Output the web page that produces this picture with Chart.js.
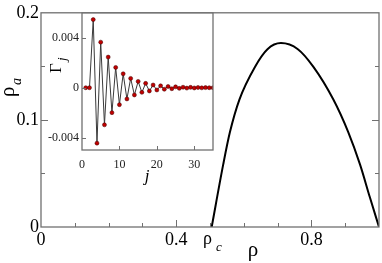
<!DOCTYPE html>
<html>
<head>
<meta charset="utf-8">
<script src="https://cdn.jsdelivr.net/npm/chart.js@4/dist/chart.umd.min.js"></script>
<style>
html,body{margin:0;padding:0;background:#fff;}
#wrap{position:relative;width:382px;height:263px;}
canvas{position:absolute;left:0;top:0;}
</style>
</head>
<body>
<div id="wrap">
<canvas id="main" width="382" height="263"></canvas>
<canvas id="inset" width="382" height="263"></canvas>
</div>
<script>
// ---- main panel data ----
const rho   = [0.505, 0.539, 0.559, 0.587, 0.633, 0.670, 0.710, 0.760, 0.806, 0.865, 0.909, 0.944, 0.973, 1.000];
const rhoA  = [0.000, 0.0582, 0.0886, 0.119, 0.1495, 0.166, 0.1717, 0.166, 0.1495, 0.119, 0.0886, 0.0582, 0.0277, 0.000];
const mainXTicks  = [0, 0.1, 0.2, 0.3, 0.4, 0.5, 0.6, 0.7, 0.8, 0.9, 1.0];
const mainXLabels = ['0', '', '', '', '0.4', '', '', '', '0.8', '', ''];
const mainYTicks  = [0, 0.05, 0.1, 0.15, 0.2];
const mainYLabels = ['0', '', '0.1', '', '0.2'];
const rhoC = 0.5;

// ---- inset data ----
const jIdx  = [1,2,3,4,5,6,7,8,9,10,11,12,13,14,15,16,17,18,19,20,21,22,23,24,25,26,27,28,29,30,31,32,33,34,35];
const gamma = [0, 0, 0.00547, -0.00445, 0.00366, -0.00298, 0.00246, -0.0020, 0.00163, -0.00136,
               0.00112, -0.0009, 0.00075, -0.00058, 0.00051, -0.00037, 0.00035, -0.00026, 0.00022, -0.00018,
               0.00015, -0.00012, 0.0001, -0.00008, 0.00007, -0.00005, 0.00004, -0.00003, 0.00003, -0.00002,
               0.00002, -0.00001, 0.00001, 0, 0];
const insetXTicks  = [0, 10, 20, 30];
const insetXLabels = ['0', '10', '20', '30'];
const insetYTicks  = [-0.004, 0, 0.004];
const insetYLabels = ['-0.004', '0', '0.004'];

const SERIF = '"Liberation Serif", "DejaVu Serif", serif';
const FRAME = '#707070';

function drawTicks(ctx, chart, cfg){
  const a = chart.chartArea, xs = chart.scales.x, ys = chart.scales.y;
  ctx.save();
  ctx.strokeStyle = FRAME; ctx.lineWidth = 1;
  ctx.beginPath();
  cfg.x.forEach(t => {
    const px = Math.round(xs.getPixelForValue(t.v)) + 0.5;
    ctx.moveTo(px, a.bottom); ctx.lineTo(px, a.bottom - t.len);
  });
  cfg.y.forEach(t => {
    const py = Math.round(ys.getPixelForValue(t.v)) + 0.5;
    ctx.moveTo(a.left, py); ctx.lineTo(a.left + t.len, py);
    if (cfg.right) { ctx.moveTo(a.right, py); ctx.lineTo(a.right - t.len, py); }
  });
  ctx.stroke();
  ctx.lineWidth = 1.3;
  ctx.strokeRect(a.left, a.top, a.right - a.left, a.bottom - a.top);
  ctx.restore();
}

const mainPlugin = {
  id: 'mainDeco',
  afterDatasetsDraw(chart){
    const ctx = chart.ctx;
    drawTicks(ctx, chart, {
      x: mainXTicks.filter(v => v > 0 && v < 1).map((v, i) => ({v, len: mainXLabels[i+1] ? 7 : 4})),
      y: mainYTicks.filter(v => v > 0 && v < 0.2).map((v, i) => ({v, len: mainYLabels[i+1] ? 7 : 4})),
      right: true
    });
    const xs = chart.scales.x;
    ctx.save();
    ctx.fillStyle = '#000';
    // rho_c label
    const pc = xs.getPixelForValue(rhoC);
    ctx.font = '18px ' + SERIF; ctx.textAlign = 'left'; ctx.textBaseline = 'alphabetic';
    ctx.fillText('ρ', pc - 7, 244);
    ctx.font = 'italic 13px ' + SERIF;
    ctx.fillText('c', pc + 6, 251);
    // x title
    ctx.font = '21px ' + SERIF; ctx.textAlign = 'center';
    ctx.fillText('ρ', 253, 256);
    // y title (rotated)
    ctx.translate(14, 97); ctx.rotate(-Math.PI/2);
    ctx.textAlign = 'left';
    ctx.font = '21px ' + SERIF; ctx.fillText('ρ', 0, 0);
    ctx.font = 'italic 14px ' + SERIF; ctx.fillText('a', 12, 7);
    ctx.restore();
  }
};

const insetPlugin = {
  id: 'insetDeco',
  beforeDatasetsDraw(chart){
    const a = chart.chartArea, ctx = chart.ctx;
    ctx.save(); ctx.fillStyle = '#fff';
    ctx.fillRect(a.left, a.top, a.right - a.left, a.bottom - a.top);
    ctx.restore();
  },
  afterDatasetsDraw(chart){
    const ctx = chart.ctx;
    drawTicks(ctx, chart, {
      x: insetXTicks.filter(v => v > 0).map(v => ({v, len: 4})),
      y: insetYTicks.map(v => ({v, len: 4})),
      right: false
    });
    ctx.save(); ctx.fillStyle = '#000';
    ctx.font = 'italic 17px ' + SERIF; ctx.textAlign = 'center'; ctx.textBaseline = 'alphabetic';
    ctx.fillText('j', 147, 181);
    ctx.translate(61, 73); ctx.rotate(-Math.PI/2);
    ctx.textAlign = 'left';
    ctx.font = '17px ' + SERIF; ctx.fillText('Γ', 0, 0);
    ctx.font = 'italic 13px ' + SERIF; ctx.fillText('j', 12, 5);
    ctx.restore();
  }
};

new Chart(document.getElementById('main'), {
  type: 'scatter',
  data: { datasets: [{
    data: rho.map((x, i) => ({x, y: rhoA[i]})),
    showLine: true, borderColor: '#000', borderWidth: 2, pointRadius: 0,
    cubicInterpolationMode: 'monotone', fill: false
  }]},
  options: {
    responsive: false, animation: false, devicePixelRatio: 1,
    layout: { padding: { top: 8, right: 3, left: 0, bottom: 0 } },
    plugins: { legend: { display: false }, tooltip: { enabled: false } },
    scales: {
      x: {
        type: 'linear', min: 0, max: 1,
        afterBuildTicks: s => { s.ticks = mainXTicks.map(v => ({value: v})); },
        afterFit: s => { s.height = 36; },
        grid: { display: false, drawTicks: false }, border: { display: false },
        ticks: { autoSkip: false, maxRotation: 0, padding: 2, color: '#000',
                 font: { family: SERIF, size: 18 }, callback: (v, i) => mainXLabels[i] }
      },
      y: {
        type: 'linear', min: 0, max: 0.2,
        afterBuildTicks: s => { s.ticks = mainYTicks.map(v => ({value: v})); },
        afterFit: s => { s.width = 41; },
        grid: { display: false, drawTicks: false }, border: { display: false },
        ticks: { autoSkip: false, padding: 2, color: '#000',
                 font: { family: SERIF, size: 18 }, callback: (v, i) => mainYLabels[i] }
      }
    }
  },
  plugins: [mainPlugin]
});

new Chart(document.getElementById('inset'), {
  type: 'scatter',
  data: { datasets: [{
    data: jIdx.map((x, i) => ({x, y: gamma[i]})),
    showLine: true, borderColor: '#3a3a3a', borderWidth: 1, tension: 0,
    pointRadius: 2, pointBackgroundColor: '#c00000', pointBorderColor: '#400000', pointBorderWidth: 0.5
  }]},
  options: {
    responsive: false, animation: false, devicePixelRatio: 1,
    layout: { padding: { top: 13, right: 169, left: 0, bottom: 0 } },
    plugins: { legend: { display: false }, tooltip: { enabled: false } },
    scales: {
      x: {
        type: 'linear', min: 0, max: 35,
        afterBuildTicks: s => { s.ticks = insetXTicks.map(v => ({value: v})); },
        afterFit: s => { s.height = 113; },
        grid: { display: false, drawTicks: false }, border: { display: false },
        ticks: { autoSkip: false, maxRotation: 0, padding: 8, color: '#222',
                 font: { family: SERIF, size: 12 }, callback: (v, i) => insetXLabels[i] }
      },
      y: {
        type: 'linear', min: -0.005, max: 0.006,
        afterBuildTicks: s => { s.ticks = insetYTicks.map(v => ({value: v})); },
        afterFit: s => { s.width = 82; },
        grid: { display: false, drawTicks: false }, border: { display: false },
        ticks: { autoSkip: false, padding: 3, color: '#222',
                 font: { family: SERIF, size: 12 }, callback: (v, i) => insetYLabels[i] }
      }
    }
  },
  plugins: [insetPlugin]
});
</script>
</body>
</html>
